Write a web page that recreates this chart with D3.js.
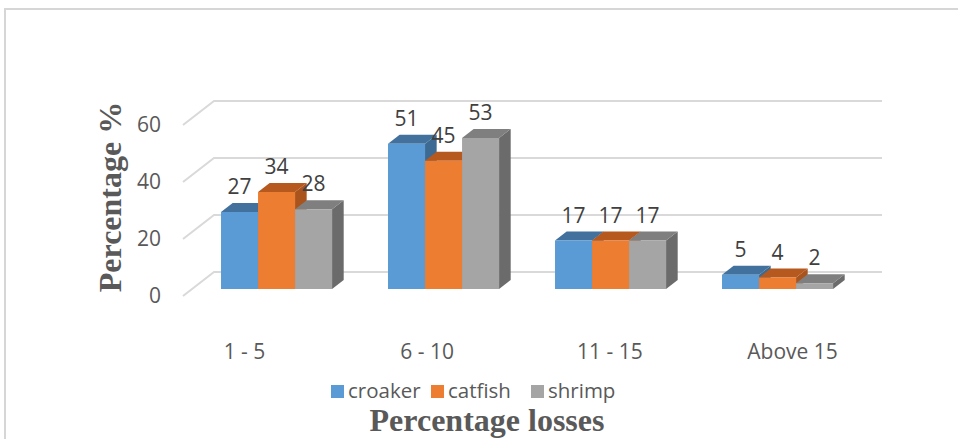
<!DOCTYPE html>
<html>
<head>
<meta charset="utf-8">
<script src="https://cdn.jsdelivr.net/npm/d3@7"></script>
<style>
  html, body { margin: 0; padding: 0; background: #fff; }
  svg { display: block; }
</style>
</head>
<body>
<div id="chart"></div>
<script>
// Loss-class categories and the share of each species in each class (%)
const categories = ["1 - 5", "6 - 10", "11 - 15", "Above 15"];
const seriesNames = ["croaker", "catfish", "shrimp"];
const croaker = [27, 51, 17, 5];
const catfish = [34, 45, 17, 4];
const shrimp = [28, 53, 17, 2];
const yTicks = [0, 20, 40, 60];

const seriesValues = [croaker, catfish, shrimp];
const frontColors = ["#5b9bd5", "#ed7d31", "#a5a5a5"];
const topColors = ["#41719c", "#b5591f", "#7f7f7f"];
const sideColors = ["#3d6a93", "#a9531d", "#6b6b6b"];

const W = 958, H = 439;
const svg = d3.select("#chart").append("svg")
  .attr("width", W).attr("height", H)
  .style("font-family", "'Open Sans', sans-serif");

svg.append("rect").attr("width", W).attr("height", H).attr("fill", "#fff");

// Frame lines of the chart area
svg.append("path")
  .attr("d", `M5,${H} L5,9 L${W},9`)
  .attr("fill", "none").attr("stroke", "#d6d6d6").attr("stroke-width", 2);

// 3D projection: x along the floor front edge, value up, depth z in [0,1]
const floorX0 = 183, floorX1 = 851;
const depthDX = 31, depthDY = -24;
const yFront = d3.scaleLinear().domain([0, 60]).range([296, 125]);
const project = (x, v, z) => [x + z * depthDX, yFront(v) + z * depthDY];

const zFront = 7 / 24, zBack = 16 / 24;

const xBand = d3.scaleBand().domain(categories)
  .range([floorX0 + 1, floorX1 + 1])
  .paddingInner(0.335).paddingOuter(0.1675);
const xSub = d3.scaleBand().domain(seriesNames).range([0, xBand.bandwidth()]);

// Gridlines: side wall diagonals and back wall horizontals
const grid = svg.append("g").attr("stroke", "#d9d9d9").attr("stroke-width", 2).attr("fill", "none");
yTicks.forEach(v => {
  const a = project(floorX0, v, 0), b = project(floorX0, v, 1), c = project(floorX1, v, 1);
  grid.append("path").attr("d", `M${a[0]},${a[1]} L${b[0]},${b[1]} L${c[0]},${c[1]}`);
});

// Value axis labels
const yAxis = d3.axisLeft(yFront).tickValues(yTicks).tickSize(0).tickPadding(22);
const yAxisG = svg.append("g").attr("transform", `translate(${floorX0},0)`).call(yAxis);
yAxisG.select(".domain").remove();
yAxisG.selectAll("text")
  .attr("fill", "#595959").style("font-size", "21px")
  .style("font-family", "'Open Sans', sans-serif");

// Bars
const poly = pts => "M" + pts.map(p => p.join(",")).join("L") + "Z";
const barsG = svg.append("g");
const labelsG = svg.append("g");
categories.forEach((cat, ci) => {
  seriesNames.forEach((s, si) => {
    const v = seriesValues[si][ci];
    const xl = xBand(cat) + xSub(s);
    const xr = xl + xSub.bandwidth();
    const side = [project(xr, 0, zFront), project(xr, v, zFront), project(xr, v, zBack), project(xr, 0, zBack)];
    const top = [project(xl, v, zFront), project(xr, v, zFront), project(xr, v, zBack), project(xl, v, zBack)];
    const front = [project(xl, 0, zFront), project(xl, v, zFront), project(xr, v, zFront), project(xr, 0, zFront)];
    barsG.append("path").attr("d", poly(side)).attr("fill", sideColors[si]);
    barsG.append("path").attr("d", poly(top)).attr("fill", topColors[si]);
    barsG.append("path").attr("d", poly(front)).attr("fill", frontColors[si]);

    const fc = project((xl + xr) / 2, v, zFront);
    const bt = project(xl, v, zBack);
    labelsG.append("text")
      .attr("x", fc[0]).attr("y", bt[1] - 9)
      .attr("text-anchor", "middle")
      .attr("fill", "#404040").style("font-size", "21px")
      .text(v);
  });
});

// Category labels
const xLabel = d3.scalePoint().domain(categories).range([244, 792]);
const xAxis = d3.axisBottom(xLabel).tickSize(0).tickPadding(0);
const xAxisG = svg.append("g").attr("transform", "translate(0,343)").call(xAxis);
xAxisG.select(".domain").remove();
xAxisG.selectAll("text")
  .attr("dy", "0.76em")
  .attr("fill", "#595959").style("font-size", "21px")
  .style("font-family", "'Open Sans', sans-serif");

// Legend
const legendX = d3.scaleBand().domain(seriesNames).range([331, 631]);
const legend = svg.append("g");
seriesNames.forEach((s, si) => {
  const g = legend.append("g").attr("transform", `translate(${legendX(s)},0)`);
  g.append("rect").attr("x", 0).attr("y", 385).attr("width", 13).attr("height", 13).attr("fill", frontColors[si]);
  g.append("text").attr("x", 17).attr("y", 398)
    .attr("fill", "#595959").style("font-size", "20.5px").text(s);
});

// Axis titles
svg.append("text")
  .attr("x", 487).attr("y", 431)
  .attr("text-anchor", "middle")
  .style("font-family", "'Liberation Serif', 'Times New Roman', serif")
  .style("font-weight", "bold").style("font-size", "32px")
  .attr("fill", "#595959")
  .text("Percentage losses");

svg.append("text")
  .attr("transform", "translate(121,197) rotate(-90)")
  .attr("text-anchor", "middle")
  .style("font-family", "'Liberation Serif', 'Times New Roman', serif")
  .style("font-weight", "bold").style("font-size", "32px")
  .attr("fill", "#595959")
  .text("Percentage %");
</script>
</body>
</html>
